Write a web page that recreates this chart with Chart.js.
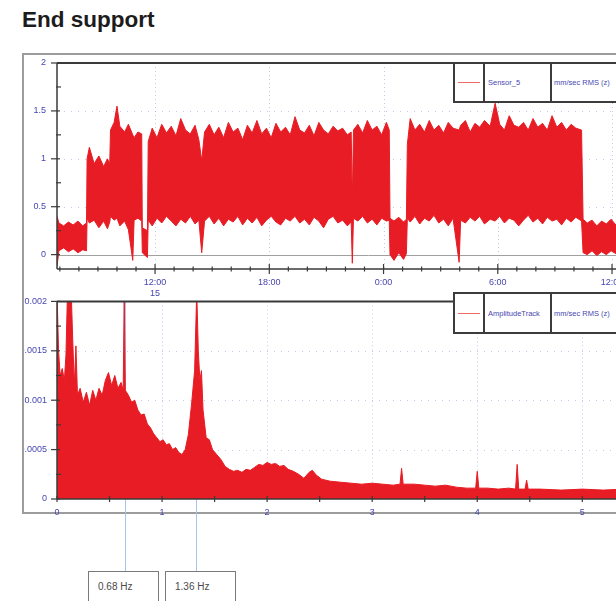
<!DOCTYPE html>
<html>
<head>
<meta charset="utf-8">
<script src="https://cdn.jsdelivr.net/npm/chart.js@4.4.1/dist/chart.umd.min.js"></script>
<style>
html, body { margin: 0; padding: 0; background: #fff; width: 616px; height: 601px; overflow: hidden; }
#title { position: absolute; left: 22px; top: 9px; font: bold 22.5px "Liberation Sans", Arial, sans-serif; line-height: 22px; color: #1c1c1c; }
#panel { position: absolute; left: 22px; top: 53px; width: 720px; height: 461px; border: 2px solid #9c9c9c; box-sizing: border-box; }
canvas { position: absolute; }
#rmsChart { left: 24px; top: 0px; }
#specChart { left: 24px; top: 286px; }
.lg { position: absolute; left: 453px; width: 300px; border: 2px solid #3c3c3c; box-sizing: border-box; display: flex; background: #fff; font: 7.5px "Liberation Sans", Arial, sans-serif; color: #4848b0; }
.lg .c1 { width: 28px; border-right: 2px solid #3c3c3c; position: relative; }
.lg .c1 span { position: absolute; left: 3px; width: 22px; height: 1px; background: #f06a6a; }
.lg .c2 { width: 62px; border-right: 2px solid #3c3c3c; padding-left: 3px; display: flex; align-items: center; }
.lg .c3 { padding-left: 2px; display: flex; align-items: center; }
.cur { position: absolute; top: 571px; width: 71px; height: 34px; border: 1.5px solid #7a7a7a; box-sizing: border-box; background: #fff; font: 10px "Liberation Sans", Arial, sans-serif; color: #4a4a4a; padding: 9px 0 0 9px; }
</style>
</head>
<body>
<div id="title">End support</div>
<div id="panel"></div>
<canvas id="rmsChart" width="696" height="300"></canvas>
<canvas id="specChart" width="696" height="315"></canvas>
<div class="lg" style="top:62px;height:41px"><div class="c1"><span style="top:18px"></span></div><div class="c2">Sensor_5</div><div class="c3">mm/sec RMS (z)</div></div>
<div class="lg" style="top:292px;height:42px"><div class="c1"><span style="top:19px"></span></div><div class="c2">AmplitudeTrack</div><div class="c3">mm/sec RMS (z)</div></div>
<div class="cur" id="cur0" style="left:88px"></div>
<div class="cur" id="cur1" style="left:165px"></div>
<script>
// top chart: RMS envelope over time (hours from midnight of day 15)
const timeTicks = [12, 18, 24, 30, 36];
const rmsTicks = [0, 0.5, 1, 1.5, 2];
const rmsHours = [6.85, 6.95, 7.2, 7.45, 7.7, 7.95, 8.2, 8.4,
  8.43, 8.55, 8.8, 9.05, 9.3, 9.5, 9.62,
  9.66, 9.85, 10.0, 10.15, 10.4, 10.6, 10.83, 10.9, 11.1, 11.3,
  11.33, 11.6,
  11.64, 11.85, 12.1, 12.35, 12.6, 12.85, 13.1, 13.35, 13.6, 13.85, 14.1, 14.3, 14.45, 14.6, 14.85,
  15.1, 15.35, 15.6, 15.85, 16.1, 16.35, 16.6, 16.85, 17.1, 17.35, 17.6, 17.85, 18.1, 18.35, 18.6, 18.85,
  19.1, 19.35, 19.6, 19.85, 20.1, 20.35, 20.6, 20.85, 21.1, 21.35, 21.6, 21.85, 22.1, 22.3, 22.36, 22.42,
  22.65, 22.9, 23.15, 23.4, 23.65, 23.9, 24.15, 24.3,
  24.34, 24.55, 24.8, 25.05, 25.2,
  25.25, 25.4, 25.65, 25.9, 26.15, 26.4, 26.65, 26.9, 27.15, 27.4, 27.65, 27.97, 28.05, 28.3, 28.55, 28.8,
  29.05, 29.3, 29.6, 29.86, 30.1, 30.35, 30.6, 30.85, 31.1, 31.35, 31.6, 31.85, 32.1, 32.35, 32.6, 32.85,
  33.1, 33.35, 33.6, 33.85, 34.1, 34.4,
  34.48, 34.7, 34.95, 35.2, 35.45, 35.7, 35.95, 36.2, 36.5, 36.8, 37.1, 37.4, 37.7, 38.0, 38.3, 38.6, 38.9, 39.2, 39.57];
const rmsHigh = [0.40, 0.33, 0.30, 0.34, 0.31, 0.35, 0.30, 0.33,
  1.00, 1.12, 0.95, 1.03, 0.92, 1.00, 0.95,
  1.30, 1.38, 1.55, 1.34, 1.28, 1.36, 1.25, 1.22, 1.28, 1.26,
  0.28, 0.25,
  1.18, 1.32, 1.22, 1.36, 1.27, 1.34, 1.24, 1.42, 1.30, 1.26, 1.35, 1.20, 0.98, 1.28, 1.36,
  1.25, 1.33, 1.22, 1.38, 1.28, 1.32, 1.20, 1.35, 1.27, 1.40, 1.26, 1.32, 1.22, 1.37, 1.28, 1.33,
  1.25, 1.44, 1.30, 1.27, 1.35, 1.24, 1.38, 1.30, 1.26, 1.34, 1.29, 1.32, 1.25, 1.28, 0.55, 1.30,
  1.36, 1.27, 1.40, 1.30, 1.34, 1.25, 1.38, 1.30,
  0.38, 0.35, 0.39, 0.34, 0.37,
  1.15, 1.42, 1.30, 1.36, 1.28, 1.40, 1.30, 1.35, 1.27, 1.38, 1.32, 1.30, 1.35, 1.40, 1.28, 1.37,
  1.33, 1.40, 1.34, 1.58, 1.36, 1.30, 1.45, 1.35, 1.33, 1.38, 1.30, 1.42, 1.33, 1.37, 1.30, 1.45,
  1.33, 1.38, 1.30, 1.36, 1.32, 1.30,
  0.37, 0.33, 0.36, 0.30, 0.35, 0.32, 0.37, 0.31, 0.35, 0.32, 0.36, 0.30, 0.34, 0.32, 0.35, 0.31, 0.36, 0.33, 0.34];
const rmsLow = [-0.12, 0.04, 0.07, 0.03, 0.06, 0.02, 0.05, 0.04,
  0.38, 0.33, 0.36, 0.28, 0.35, 0.27, 0.34,
  0.40, 0.36, 0.38, 0.30, 0.35, 0.26, -0.06, 0.36, 0.38, 0.35,
  0.02, -0.03,
  0.36, 0.30, 0.38, 0.33, 0.40, 0.35, 0.30, 0.37, 0.33, 0.40, 0.32, 0.36, 0.02, 0.35, 0.40,
  0.32, 0.38, 0.30, 0.37, 0.34, 0.40, 0.31, 0.38, 0.33, 0.39, 0.30, 0.36, 0.40, 0.34, 0.31, 0.38,
  0.35, 0.40, 0.33, 0.37, 0.31, 0.39, 0.35, 0.28, 0.37, 0.40, 0.33, 0.36, 0.30, 0.34, -0.09, 0.38,
  0.35, 0.40, 0.33, 0.37, 0.31, 0.38, 0.35, 0.36,
  0.00, -0.06, 0.02, -0.05, 0.01,
  0.38, 0.34, 0.40, 0.32, 0.38, 0.35, 0.41, 0.33, 0.37, 0.30, 0.38, -0.08, 0.36, 0.33, 0.39, 0.35,
  0.40, 0.32, 0.37, 0.35, 0.40, 0.33, 0.38, 0.36, 0.30, 0.36, 0.41, 0.34, 0.38, 0.32, 0.39, 0.35,
  0.37, 0.31, 0.38, 0.34, 0.39, 0.35,
  0.02, 0.00, 0.04, -0.01, 0.03, 0.00, 0.04, 0.01, 0.03, 0.00, 0.04, 0.02, 0.03, 0.01, 0.02, 0.00, 0.03, 0.01, 0.02];

// bottom chart: amplitude spectrum
const freqTicks = [0, 1, 2, 3, 4, 5];
const ampTicks = [0, 0.0005, 0.001, 0.0015, 0.002];
const specFreq = [0, 0.015, 0.03, 0.05, 0.07, 0.085, 0.1, 0.135, 0.15, 0.165, 0.18, 0.195, 0.22, 0.25, 0.28, 0.31,
  0.34, 0.37, 0.4, 0.43, 0.46, 0.49, 0.52, 0.55, 0.58, 0.61, 0.63, 0.64, 0.65, 0.68, 0.71, 0.74, 0.77, 0.8,
  0.83, 0.86, 0.89, 0.92, 0.95, 0.98, 1.01, 1.04, 1.07, 1.1, 1.13, 1.16, 1.19, 1.22, 1.25, 1.28, 1.31, 1.33,
  1.345, 1.36, 1.375, 1.39, 1.42, 1.45, 1.48, 1.52, 1.56, 1.6, 1.64, 1.68, 1.72, 1.76, 1.8, 1.84, 1.88, 1.92,
  1.96, 2.0, 2.04, 2.08, 2.12, 2.16, 2.2, 2.25, 2.3, 2.35, 2.4, 2.43, 2.47, 2.52, 2.6, 2.7, 2.8, 2.9, 3.0,
  3.1, 3.2, 3.265, 3.28, 3.295, 3.4, 3.5, 3.6, 3.7, 3.8, 3.9, 3.985, 4.0, 4.015, 4.1, 4.2, 4.3, 4.365, 4.38,
  4.395, 4.455, 4.47, 4.485, 4.6, 4.8, 5.0, 5.2, 5.4, 5.6, 5.8, 5.93];
const specAmp = [2.1, 1.5, 1.25, 1.32, 1.2, 1.45, 2.1, 2.1, 1.6, 1.15, 1.55, 1.05, 1.12, 0.98, 1.08, 0.95,
  1.1, 1.0, 1.12, 1.05, 1.2, 1.28, 1.15, 1.25, 1.12, 1.18, 1.1, 2.1, 1.1, 1.05, 0.98, 1.0, 0.9, 0.85,
  0.86, 0.76, 0.72, 0.66, 0.62, 0.58, 0.6, 0.55, 0.56, 0.5, 0.52, 0.47, 0.45, 0.5, 0.65, 0.95, 1.3, 2.1,
  1.5, 1.2, 1.3, 0.9, 0.62, 0.6, 0.5, 0.45, 0.4, 0.33, 0.3, 0.28, 0.29, 0.27, 0.3, 0.29, 0.32, 0.35,
  0.34, 0.37, 0.35, 0.36, 0.33, 0.34, 0.3, 0.28, 0.25, 0.21, 0.27, 0.29, 0.24, 0.2, 0.18, 0.17, 0.16, 0.15, 0.16,
  0.15, 0.14, 0.15, 0.31, 0.15, 0.15, 0.14, 0.13, 0.14, 0.12, 0.11, 0.11, 0.28, 0.11, 0.11, 0.1, 0.11, 0.1, 0.35,
  0.1, 0.1, 0.19, 0.1, 0.1, 0.09, 0.1, 0.09, 0.1, 0.09, 0.09, 0.09].map(v => v / 1000);

const cursorHz = [0.65, 1.32];
const cursorLabels = ['0.68 Hz', '1.36 Hz'];

const RED = 'rgb(232,28,36)';
const LABEL_BLUE = '#4646b2';
const tickFont = { family: 'Liberation Sans', size: 9 };

document.getElementById('cur0').textContent = cursorLabels[0];
document.getElementById('cur1').textContent = cursorLabels[1];

function seg(ctx, x1, y1, x2, y2) {
  ctx.beginPath();
  ctx.moveTo(x1, y1);
  ctx.lineTo(x2, y2);
  ctx.stroke();
}

// gridlines, axis lines, crossing tick marks, cursor lines
function decoPlugin(o) {
  return {
    id: 'deco',
    beforeDatasetsDraw(chart) {
      const { ctx, chartArea: a, scales: { x, y } } = chart;
      ctx.save();
      ctx.lineWidth = 1;
      ctx.strokeStyle = 'rgba(150,168,222,0.6)';
      ctx.setLineDash([1, 3]);
      o.xGrid.forEach(v => {
        const px = Math.round(x.getPixelForValue(v)) + 0.5;
        seg(ctx, px, a.top, px, a.bottom);
      });
      ctx.setLineDash([1, 6]);
      o.yGrid.forEach(v => {
        if (v === 0) return;
        const py = Math.round(y.getPixelForValue(v)) + 0.5;
        seg(ctx, a.left, py, a.right, py);
      });
      ctx.setLineDash([]);
      if (o.zeroLine) {
        ctx.strokeStyle = '#a0a0a0';
        const py = Math.round(y.getPixelForValue(0)) + 0.5;
        seg(ctx, a.left, py, a.right, py);
      }
      if (o.cursors) {
        ctx.strokeStyle = '#a9c3ea';
        o.cursors.forEach(v => {
          const px = Math.round(x.getPixelForValue(v)) + 0.5;
          seg(ctx, px, a.top, px, chart.height - 30);
        });
      }
      ctx.restore();
    },
    afterDatasetsDraw(chart) {
      const { ctx, chartArea: a, scales: { x, y } } = chart;
      ctx.save();
      ctx.strokeStyle = '#3a3a3a';
      // plot top border
      ctx.lineWidth = 2;
      seg(ctx, a.left, a.top, a.right, a.top);
      // axis lines
      ctx.lineWidth = 1.5;
      seg(ctx, a.left, a.top, a.left, a.bottom);
      seg(ctx, a.left, a.bottom, a.right, a.bottom);
      ctx.lineWidth = 1.2;
      // y ticks
      for (let v = o.yMinorFrom; v <= y.max + 1e-12; v += o.yMinor) {
        const py = y.getPixelForValue(v);
        const major = o.yGrid.some(g => Math.abs(g - v) < o.yMinor / 10);
        seg(ctx, a.left - (major ? 6 : 1), py, a.left + (major ? 3 : 4), py);
      }
      // x ticks
      for (let v = o.xMinorFrom; v <= x.max + 1e-9; v += o.xMinor) {
        const px = x.getPixelForValue(v);
        const major = o.xGrid.some(g => Math.abs(g - v) < o.xMinor / 10);
        const h = major ? o.xMajorLen : o.xMinorLen;
        seg(ctx, px, a.bottom - h, px, a.bottom + h);
      }
      ctx.restore();
    }
  };
}

function hourLabel(v) {
  const t = ((v % 24) + 24) % 24;
  return t + ':00';
}

new Chart(document.getElementById('rmsChart'), {
  type: 'line',
  data: {
    datasets: [{
      label: 'Sensor_5',
      data: rmsHours.map((h, i) => ({ x: h, y: rmsHigh[i] })),
      borderColor: RED,
      backgroundColor: RED,
      borderWidth: 1,
      pointRadius: 0,
      fill: '+1'
    }, {
      label: 'low',
      data: rmsHours.map((h, i) => ({ x: h, y: rmsLow[i] })),
      borderColor: RED,
      borderWidth: 1,
      pointRadius: 0,
      fill: false
    }]
  },
  options: {
    responsive: false,
    animation: false,
    events: [],
    layout: { padding: { left: 0, top: 63, right: 40, bottom: 0 } },
    plugins: { legend: { display: false }, tooltip: { enabled: false } },
    scales: {
      x: {
        type: 'linear',
        min: 6.85,
        max: 39.57,
        grid: { display: false, drawTicks: false },
        border: { display: false },
        afterBuildTicks: s => { s.ticks = timeTicks.map(v => ({ value: v })); },
        afterFit: s => { s.height = 31; },
        ticks: {
          autoSkip: false,
          maxRotation: 0,
          padding: 8,
          color: LABEL_BLUE,
          font: tickFont,
          callback: v => v === timeTicks[0] ? [hourLabel(v), '15'] : hourLabel(v)
        }
      },
      y: {
        min: -0.15,
        max: 2,
        grid: { display: false, drawTicks: false },
        border: { display: false },
        afterBuildTicks: s => { s.ticks = rmsTicks.map(v => ({ value: v })); },
        afterFit: s => { s.width = 33; },
        ticks: { padding: 11, color: LABEL_BLUE, font: tickFont, callback: v => String(v) }
      }
    }
  },
  plugins: [decoPlugin({
    xGrid: timeTicks, yGrid: rmsTicks, zeroLine: true,
    xMinor: 1, xMinorFrom: 7, xMajorLen: 5, xMinorLen: 2.5,
    yMinor: 0.25, yMinorFrom: 0
  })]
});

new Chart(document.getElementById('specChart'), {
  type: 'line',
  data: {
    datasets: [{
      label: 'AmplitudeTrack',
      data: specFreq.map((f, i) => ({ x: f, y: specAmp[i] })),
      borderColor: RED,
      backgroundColor: RED,
      borderWidth: 1,
      pointRadius: 0,
      fill: 'origin'
    }]
  },
  options: {
    responsive: false,
    animation: false,
    events: [],
    layout: { padding: { left: 0, top: 7, right: 40, bottom: 0 } },
    plugins: { legend: { display: false }, tooltip: { enabled: false } },
    scales: {
      x: {
        type: 'linear',
        min: 0,
        max: 5.93,
        grid: { display: false, drawTicks: false },
        border: { display: false },
        afterBuildTicks: s => { s.ticks = freqTicks.map(v => ({ value: v })); },
        afterFit: s => { s.height = 102; },
        ticks: { autoSkip: false, maxRotation: 0, padding: 8, color: LABEL_BLUE, font: tickFont, callback: v => String(v) }
      },
      y: {
        min: 0,
        max: 0.002,
        grid: { display: false, drawTicks: false },
        border: { display: false },
        afterBuildTicks: s => { s.ticks = ampTicks.map(v => ({ value: v })); },
        afterFit: s => { s.width = 33; },
        ticks: { padding: 10, color: LABEL_BLUE, font: tickFont, callback: v => String(v) }
      }
    }
  },
  plugins: [decoPlugin({
    xGrid: freqTicks, yGrid: ampTicks, zeroLine: false, cursors: cursorHz,
    xMinor: 0.5, xMinorFrom: 0, xMajorLen: 3, xMinorLen: 3,
    yMinor: 0.00025, yMinorFrom: 0
  })]
});
</script>
</body>
</html>
